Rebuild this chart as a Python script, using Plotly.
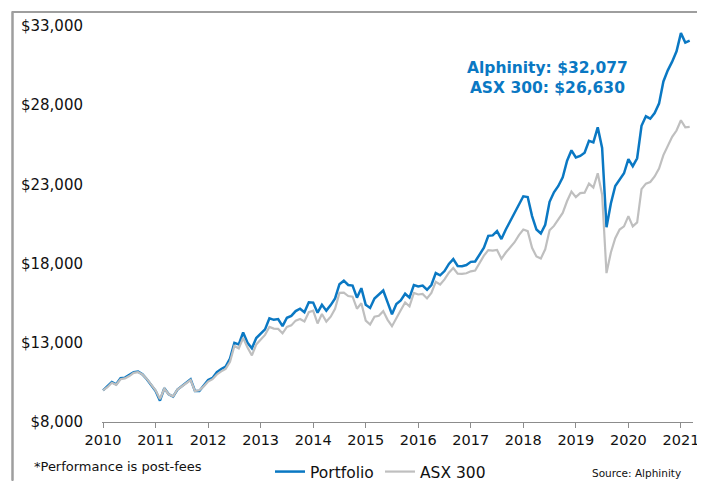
import plotly.graph_objects as go

# Monthly growth of $10,000
portfolio = [
    10000, 10250, 10530, 10380, 10760, 10800, 10950, 11150, 11180, 11010,
    10700, 10300, 9960, 9350, 10130, 9750, 9600, 10050, 10250, 10450,
    10700, 9960, 9960, 10300, 10650, 10780, 11150, 11350, 11500, 12000,
    13000, 12900, 13650, 13000, 12650, 13300, 13550, 13850, 14550, 14450,
    14500, 14050, 14580, 14700, 15000, 15150, 14930, 15560, 15540, 14900,
    15400, 15030, 15380, 15800, 16700, 16920, 16650, 16610, 15850, 16450,
    15400, 15200, 15800, 16040, 16300, 15550, 14800, 15450, 15680, 16100,
    15850, 16650, 16560, 16610, 16350, 16650, 17400, 17260, 17530, 17980,
    18280, 17850, 17840, 17910, 18110, 18130, 18550, 19000, 19750, 19780,
    20050, 19550, 20150, 20700, 21150, 21750, 22250, 22200, 21000, 20150,
    19900, 20450, 21900, 22500, 22900, 23450, 24500, 25150, 24700, 24800,
    25000, 25750, 25650, 26600, 25300, 20300, 21800, 22900, 23300, 23700,
    24600, 24150, 24650, 26700, 27300, 27150, 27500, 28100, 29500, 30200,
    30750, 31400, 32550, 31950, 32077,
]
asx300 = [
    10000, 10200, 10480, 10350, 10700, 10750, 10900, 11100, 11150, 11000,
    10720, 10350, 10000, 9450, 10100, 9750, 9620, 10050, 10250, 10450,
    10650, 9950, 10000, 10250, 10550, 10700, 11000, 11200, 11350, 11800,
    12800, 12650, 13300, 12700, 12200, 12900, 13200, 13500, 14000, 13900,
    13880, 13600, 14000, 14100, 14400, 14500, 14340, 14930, 15030, 14220,
    14820, 14340, 14650, 15150, 16150, 16170, 15950, 15910, 15150, 15500,
    14400, 14150, 14650, 14710, 15000, 14450, 14050, 14600, 15050, 15550,
    15300, 16150, 16050, 16080, 15800, 16150, 16850, 16680, 17000, 17430,
    17720, 17360, 17350, 17390, 17510, 17560, 18060, 18500, 18850, 18820,
    18860, 18300, 18700, 19050, 19350, 19800, 20150, 20050, 19000, 18450,
    18320, 18900, 20100, 20380, 20800, 21200, 21950, 22550, 22200, 22450,
    22480, 23050, 22800, 23700, 22350, 17400, 18700, 19600, 20150, 20350,
    21000, 20350, 20600, 22700, 23050, 23150, 23500, 24000, 24850, 25400,
    26000, 26400, 27050, 26600, 26630,
]
year_ticks = [2010, 2011, 2012, 2013, 2014, 2015, 2016, 2017, 2018, 2019, 2020, 2021]
value_ticks = [8000, 13000, 18000, 23000, 28000, 33000]
value_labels = ["$8,000", "$13,000", "$18,000", "$23,000", "$28,000", "$33,000"]
series_names = ["Portfolio", "ASX 300"]
end_labels = ["Alphinity: $32,077", "ASX 300: $26,630"]

months = [2010 + i / 12 for i in range(len(portfolio))]

BLUE = "#0A78C3"
GREY = "#BFBFBF"
BORDER = "#9E9E9E"
FONT = "DejaVu Sans"

fig = go.Figure()
fig.add_trace(go.Scatter(x=months, y=portfolio, mode="lines", name=series_names[0],
                         line=dict(color=BLUE, width=2.5)))
fig.add_trace(go.Scatter(x=months, y=asx300, mode="lines", name=series_names[1],
                         line=dict(color=GREY, width=2.2)))

# The page body has an 8px margin, so the figure is 8px smaller and
# page positions are converted to figure positions.
OFF = 8
W, H = 705 - OFF, 481 - OFF
L, R, T, B = 94, 12, 18, 59
pw, ph = W - L - R, H - T - B


def px(xp):
    return (xp - OFF - L) / pw


def py(yp):
    return (H - B - (yp - OFF)) / ph


fig.update_layout(
    width=W, height=H,
    margin=dict(l=L, r=R, t=T, b=B, autoexpand=False),
    paper_bgcolor="white", plot_bgcolor="white",
    font=dict(family=FONT, color="#111111"),
    showlegend=True,
    legend=dict(orientation="h", xref="container", yref="container",
                x=(275 - OFF - 5) / W, y=1 - (472 - OFF) / H,
                xanchor="left", yanchor="middle",
                font=dict(size=15.5, color="#111111"), bgcolor="rgba(0,0,0,0)",
                entrywidth=65, entrywidthmode="pixels"),
    xaxis=dict(range=[2009.98, 2021.23], tickvals=year_ticks,
               ticktext=[str(y) for y in year_ticks], automargin=False,
               showgrid=False, zeroline=False, showline=True, linecolor="#8C8C8C",
               linewidth=1, ticks="outside", ticklen=5, tickcolor="#8C8C8C",
               tickfont=dict(size=14.5, color="#111111")),
    yaxis=dict(range=[8000, 33000], tickvals=value_ticks, ticktext=value_labels,
               automargin=False, showgrid=False, zeroline=False, showline=False,
               ticks="", ticklabelstandoff=18,
               tickfont=dict(size=15, color="#111111")),
    shapes=[
        dict(type="rect", xref="paper", yref="paper", x0=px(12.5), x1=px(720),
             y0=py(12), y1=py(500), fillcolor="rgba(0,0,0,0)",
             line=dict(color=BORDER, width=2), layer="above"),
        dict(type="line", xref="paper", yref="paper", x0=px(12), x1=px(704),
             y0=py(12), y1=py(12), line=dict(color=BORDER, width=2), layer="above"),
        dict(type="line", xref="paper", yref="paper", x0=px(12.5), x1=px(12.5),
             y0=py(12), y1=py(480), line=dict(color=BORDER, width=2), layer="above"),
    ],
    annotations=[
        dict(text="<b>" + end_labels[0] + "<br>" + end_labels[1] + "</b>",
             xref="paper", yref="paper", x=px(547), y=py(78),
             xanchor="center", yanchor="middle", showarrow=False, align="center",
             font=dict(size=15.5, color=BLUE, family=FONT)),
        dict(text="*Performance is post-fees", xref="paper", yref="paper",
             x=px(32), y=py(467), xanchor="left", yanchor="middle", showarrow=False,
             font=dict(size=13, color="#111111")),
        dict(text="Source: Alphinity", xref="paper", yref="paper",
             x=px(636), y=py(473), xanchor="center", yanchor="middle", showarrow=False,
             font=dict(size=10.5, color="#111111")),
    ],
)

fig.write_html("out.html")
